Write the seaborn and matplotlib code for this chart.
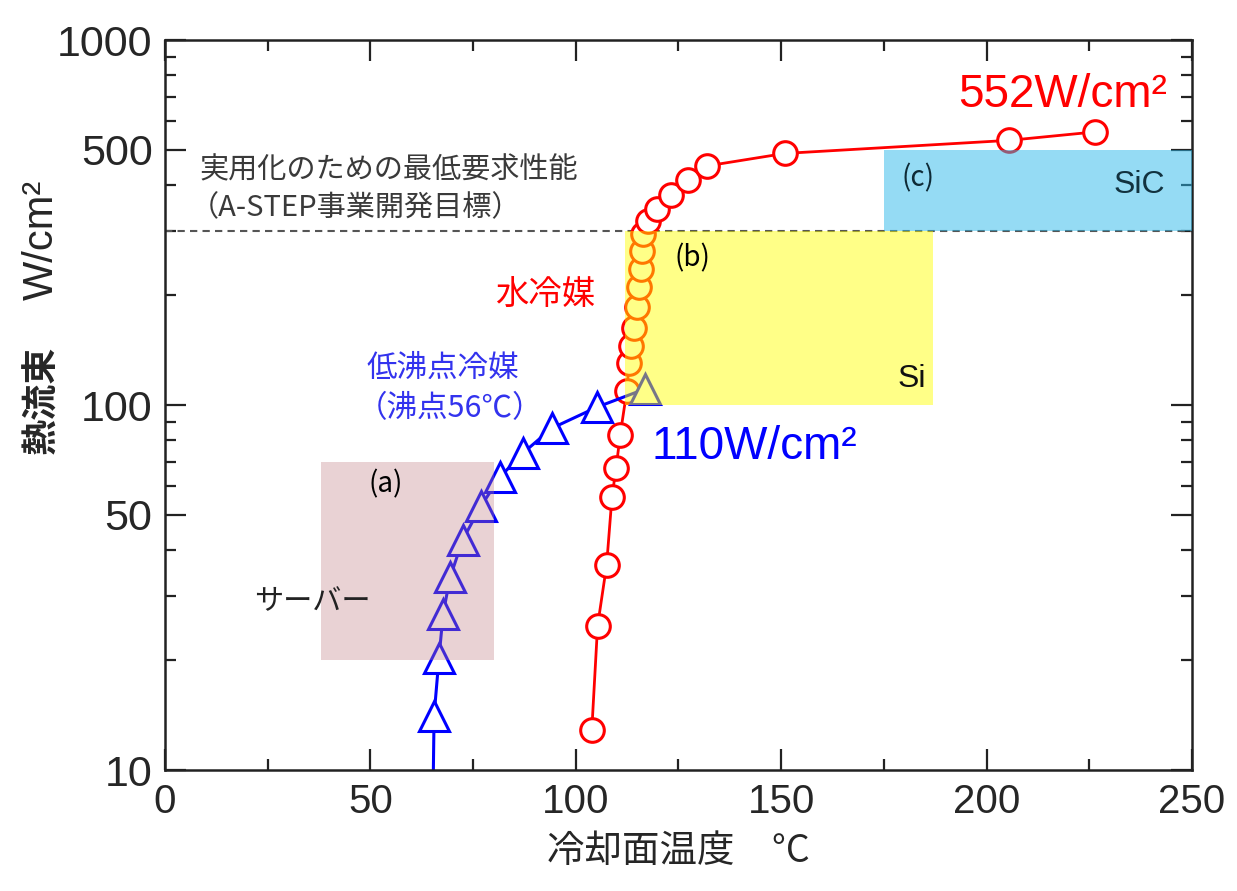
import matplotlib
matplotlib.use("Agg")
import matplotlib.pyplot as plt
import seaborn as sns
import pandas as pd

# 水冷媒 (circles)
water_temp = [103.9, 105.3, 107.5, 108.8, 109.8, 110.8, 112.4, 113.0, 113.4, 114.2, 114.8,
              115.5, 115.8, 116.0, 116.4, 117.6, 119.8, 123.1, 127.4, 132.0, 150.9, 205.5, 226.4]
water_flux = [12.9, 24.8, 36.4, 55.9, 67.1, 82.7, 109, 130, 145, 163, 186,
              211, 236, 265, 295, 320, 345, 377, 413, 452, 489, 531, 560]

# 低沸点冷媒 (triangles), first point is only the line tail below the axis
low_temp = [65.3, 65.5, 66.7, 67.7, 69.4, 72.5, 76.9, 81.5, 87.1, 94.2, 105.2, 116.8]
low_flux = [9.5, 14.1, 20.3, 26.8, 33.7, 42.8, 52.8, 63.4, 73.8, 86.4, 98.7, 110.6]

# application regions
box_names = ["(a)", "(b)", "(c)"]
box_x0 = [38, 112, 175]
box_x1 = [80, 187, 250]
box_y0 = [20, 100, 300]
box_y1 = [70, 300, 500]
box_colors = ["#C07E86", "#FFFF00", "#2DB9EB"]
box_alpha = [0.35, 0.47, 0.5]

target_flux = 300
y_major = [10, 50, 100, 500, 1000]
y_minor = [20, 30, 40, 60, 70, 80, 90, 200, 300, 400, 600, 700, 800, 900]

sns.set_theme(style="ticks")
plt.rcParams['font.family'] = ['Liberation Sans', 'Noto Sans CJK JP', 'DejaVu Sans']
CJK = ['Noto Sans CJK JP', 'Liberation Sans', 'DejaVu Sans']

df_w = pd.DataFrame({"temp": water_temp, "flux": water_flux})
df_l = pd.DataFrame({"temp": low_temp, "flux": low_flux})

fig = plt.figure(figsize=(12.37, 8.91), dpi=100)
ax = fig.add_axes([0.1334, 0.1358, 0.8302, 0.8193])

sns.lineplot(data=df_w, x="temp", y="flux", ax=ax, sort=False, estimator=None,
             color="#FF0000", lw=2.0, marker="o", markersize=17,
             markerfacecolor="white", markeredgecolor="#FF0000", markeredgewidth=2.2, zorder=2)
sns.lineplot(data=df_l, x="temp", y="flux", ax=ax, sort=False, estimator=None,
             color="#0000FF", lw=2.2, marker="^", markersize=22,
             markevery=list(range(1, len(low_temp))),
             markerfacecolor="white", markeredgecolor="#0000FF", markeredgewidth=2.2, zorder=2)

ax.axhline(target_flux, color="#555555", lw=1.5, ls=(0, (3.5, 2.5)), zorder=1.5)

for x0, x1, y0, y1, c, a in zip(box_x0, box_x1, box_y0, box_y1, box_colors, box_alpha):
    ax.fill_between([x0, x1], y0, y1, color=c, alpha=a, lw=0, zorder=4)

ax.set_yscale("log")
ax.set_xlim(0, 250)
ax.set_ylim(10, 1000)
ax.set_xticks(range(0, 251, 50))
ax.set_xticks(range(25, 250, 50), minor=True)
ax.set_yticks(y_major)
ax.set_yticks(y_minor, minor=True)
ax.set_yticklabels([str(v) for v in y_major])
ax.set_yticklabels([], minor=True)
ax.tick_params(which="both", direction="in", top=True, right=True, width=1.6, color="#222222")
ax.tick_params(which="major", length=15, labelsize=29, pad=9)
ax.tick_params(axis="y", which="major", labelsize=31)
ax.tick_params(which="minor", length=8)
for s in ax.spines.values():
    s.set_linewidth(1.8)
    s.set_color("#222222")

ax.set_xlabel("冷却面温度　°C", fontsize=27, family=CJK, labelpad=8)
ax.set_ylabel("")
fig.text(0.034, 0.551, "熱流束", rotation=90, fontsize=26, fontweight="bold",
         family=CJK, ha="center", va="center")
fig.text(0.034, 0.731, "W/cm²", rotation=90, fontsize=30, ha="center", va="center")

gray = "#3a3a3a"
ax.text(8.5, 440, "実用化のための最低要求性能", fontsize=21, color=gray, family=CJK, va="center")
ax.text(6.1, 345, "（A-STEP事業開発目標）", fontsize=21, color=gray, family=CJK, va="center")

ax.text(193, 706, "552W/cm²", fontsize=33, color="#FF0000", va="center")
ax.text(118.5, 76.9, "110W/cm²", fontsize=33, color="#0000FF", va="center")
ax.text(92.5, 199, "水冷媒", fontsize=24, color="#FF0000", family=CJK, ha="center", va="center")
ax.text(67.7, 126.4, "低沸点冷媒", fontsize=22, color="#3333EE", family=CJK, ha="center", va="center")
ax.text(69.4, 97.5, "（沸点56℃）", fontsize=22, color="#3333EE", family=CJK, ha="center", va="center")

ax.text(35.8, 28.9, "サーバー", fontsize=21, color="#222222", family=CJK, ha="center", va="center", zorder=5)
ax.text(53.6, 60.7, box_names[0], fontsize=20, color="black", family=CJK, ha="center", va="center", zorder=5)
ax.text(128.3, 252, box_names[1], fontsize=20, color="black", family=CJK, ha="center", va="center", zorder=5)
ax.text(183.3, 418, box_names[2], fontsize=20, color="#0E2A36", family=CJK, ha="center", va="center", zorder=5)
ax.text(181.8, 117.9, "Si", fontsize=23, color="#111111", ha="center", va="center", zorder=5)
ax.text(237.3, 401, "SiC", fontsize=23, color="#12323F", ha="center", va="center", zorder=5)

fig.savefig("out.png", dpi=100)
